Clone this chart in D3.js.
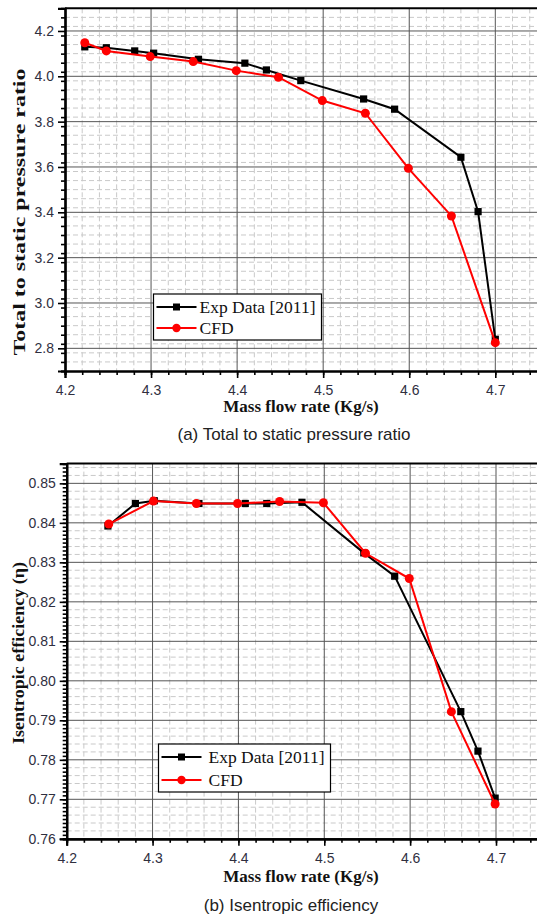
<!DOCTYPE html>
<html>
<head>
<meta charset="utf-8">
<script src="https://cdn.jsdelivr.net/npm/d3@7"></script>
<style>
  html, body { margin: 0; padding: 0; background: #fff; }
  svg { display: block; }
</style>
</head>
<body>
<svg id="fig" width="537" height="917"></svg>
<script>
// Mass flow rate sweep: measured data vs. CFD
const expFlowA = [4.223, 4.248, 4.281, 4.303, 4.355, 4.409, 4.434, 4.474, 4.547, 4.583, 4.660, 4.680, 4.700];
const expPR    = [4.130, 4.126, 4.112, 4.102, 4.075, 4.058, 4.028, 3.981, 3.900, 3.855, 3.643, 3.403, 2.840];
const cfdFlowA = [4.223, 4.248, 4.299, 4.349, 4.399, 4.448, 4.499, 4.549, 4.599, 4.649, 4.700];
const cfdPR    = [4.148, 4.112, 4.087, 4.065, 4.025, 3.996, 3.893, 3.837, 3.594, 3.384, 2.825];

const expFlowB = [4.248, 4.280, 4.302, 4.354, 4.408, 4.433, 4.474, 4.546, 4.582, 4.659, 4.679, 4.699];
const expEff   = [0.8392, 0.8449, 0.8456, 0.8449, 0.8449, 0.8449, 0.8452, 0.8324, 0.8265, 0.7922, 0.7822, 0.7703];
const cfdFlowB = [4.249, 4.301, 4.351, 4.399, 4.448, 4.499, 4.548, 4.599, 4.648, 4.699];
const cfdEff   = [0.8397, 0.8455, 0.8449, 0.8449, 0.8454, 0.8451, 0.8323, 0.8259, 0.7922, 0.7688];

const flowTicks = [4.2, 4.3, 4.4, 4.5, 4.6, 4.7];
const prTicks   = [2.8, 3.0, 3.2, 3.4, 3.6, 3.8, 4.0, 4.2];
const effTicks  = [0.76, 0.77, 0.78, 0.79, 0.80, 0.81, 0.82, 0.83, 0.84, 0.85];

const seriesNames = ["Exp Data [2011]", "CFD"];
const captions = ["(a) Total to static pressure ratio", "(b) Isentropic efficiency"];
const yTitles = ["Total to static pressure ratio", "Isentropic efficiency (\u03b7)"];
const xTitle = "Mass flow rate (Kg/s)";

const svg = d3.select("#fig");
const W = 537;

function steps(lo, hi, step) {
  const n = Math.round((hi - lo) / step);
  return d3.range(n + 1).map(i => +(lo + i * step).toFixed(6));
}

function panel(o) {
  const g = svg.append("g");
  const x = d3.scaleLinear().domain([4.2, 4.8]).range([o.x0, o.x0 + 0.6 * o.xPerUnit]);
  const y = d3.scaleLinear().domain(o.yDomain).range([o.yBottom, o.yTop]);
  const left = x(4.2), right = W + 5, top = y(o.yDomain[1]), bottom = y(o.yDomain[0]);

  const isMajor = (v, arr) => arr.some(t => Math.abs(t - v) < 1e-9);

  // minor dashed grid
  const gx = steps(4.2, 4.8, 0.02).filter(v => !isMajor(v, flowTicks) && x(v) < right);
  const gy = steps(o.yDomain[0], o.yDomain[1], o.gridStep).filter(v => !isMajor(v, o.yTicks) && y(v) > top + 0.5 && y(v) < bottom - 0.5);
  g.append("g").selectAll("line").data(gx).join("line")
    .attr("x1", d => x(d)).attr("x2", d => x(d)).attr("y1", top).attr("y2", bottom)
    .attr("stroke", "#c9c9c9").attr("stroke-width", 1).attr("stroke-dasharray", "5,3");
  g.append("g").selectAll("line").data(gy).join("line")
    .attr("x1", left).attr("x2", right).attr("y1", d => y(d)).attr("y2", d => y(d))
    .attr("stroke", "#c9c9c9").attr("stroke-width", 1).attr("stroke-dasharray", "5,3");

  // major solid grid
  g.append("g").selectAll("line").data(flowTicks.filter(v => v > 4.2)).join("line")
    .attr("x1", d => x(d)).attr("x2", d => x(d)).attr("y1", top).attr("y2", bottom)
    .attr("stroke", "#555").attr("stroke-width", 1);
  g.append("g").selectAll("line").data(o.yTicks).join("line")
    .attr("x1", left).attr("x2", right).attr("y1", d => y(d)).attr("y2", d => y(d))
    .attr("stroke", "#555").attr("stroke-width", 1);

  // frame: top border, left and bottom axes
  g.append("line").attr("x1", left).attr("x2", right).attr("y1", top).attr("y2", top)
    .attr("stroke", "#000").attr("stroke-width", 2);

  const xAxis = d3.axisBottom(x).tickValues(flowTicks).tickFormat(d3.format(".1f")).tickSize(7).tickPadding(7);
  const xMinor = d3.axisBottom(x).tickValues(steps(4.2, 4.8, 0.02)).tickFormat("").tickSize(4);
  const yAxis = d3.axisLeft(y).tickValues(o.yTicks).tickFormat(d3.format(o.fmt)).tickSize(7).tickPadding(4);
  const yMinor = d3.axisLeft(y).tickValues(steps(o.yDomain[0], o.yDomain[1], o.tickStep)).tickFormat("").tickSize(4);

  [[xMinor, "x"], [yMinor, "y"], [xAxis, "x"], [yAxis, "y"]].forEach(([ax, k]) => {
    const a = g.append("g")
      .attr("transform", k === "x" ? `translate(0,${bottom})` : `translate(${left},0)`)
      .call(ax);
    a.select(".domain").attr("stroke", "#000").attr("stroke-width", 2.2);
    a.selectAll(".tick line").attr("stroke", "#000").attr("stroke-width", 1.6);
    a.selectAll(".tick text").attr("fill", "#2f2f3f")
      .style("font-family", "'Liberation Sans', Arial, sans-serif").style("font-size", "14px");
  });

  // series
  const line = d3.line().x(d => x(d[0])).y(d => y(d[1]));
  const expPts = o.expX.map((v, i) => [v, o.expY[i]]);
  const cfdPts = o.cfdX.map((v, i) => [v, o.cfdY[i]]);

  g.append("path").datum(expPts).attr("d", line).attr("fill", "none")
    .attr("stroke", "#000").attr("stroke-width", 2);
  g.append("g").selectAll("rect").data(expPts).join("rect")
    .attr("x", d => x(d[0]) - 3.6).attr("y", d => y(d[1]) - 3.6)
    .attr("width", 7.2).attr("height", 7.2).attr("fill", "#000");

  g.append("path").datum(cfdPts).attr("d", line).attr("fill", "none")
    .attr("stroke", "#ff0000").attr("stroke-width", 2);
  g.append("g").selectAll("circle").data(cfdPts).join("circle")
    .attr("cx", d => x(d[0])).attr("cy", d => y(d[1])).attr("r", 4.5).attr("fill", "#ff0000");

  // legend
  const lg = g.append("g").attr("transform", `translate(${o.leg[0]},${o.leg[1]})`);
  lg.append("rect").attr("width", o.leg[2]).attr("height", o.leg[3])
    .attr("fill", "#fff").attr("stroke", "#000").attr("stroke-width", 1.2);
  const rows = [{c: "#000", m: "sq"}, {c: "#ff0000", m: "ci"}];
  rows.forEach((r, i) => {
    const cy = o.legRow[i];
    lg.append("line").attr("x1", 3).attr("x2", 43).attr("y1", cy).attr("y2", cy)
      .attr("stroke", r.c).attr("stroke-width", 2);
    if (r.m === "sq") lg.append("rect").attr("x", 19.5).attr("y", cy - 3.5).attr("width", 7).attr("height", 7).attr("fill", r.c);
    else lg.append("circle").attr("cx", 23).attr("cy", cy).attr("r", 4.2).attr("fill", r.c);
    lg.append("text").attr("x", o.legTextX).attr("y", cy).attr("dy", "0.35em")
      .attr("fill", "#111")
      .style("font-family", "'Liberation Serif', 'Times New Roman', serif").style("font-size", "17.5px")
      .text(seriesNames[i]);
  });

  // titles
  g.append("text").attr("x", 301).attr("y", o.xTitleY).attr("text-anchor", "middle")
    .style("font-family", "'Liberation Serif', 'Times New Roman', serif").style("font-weight", "bold")
    .style("font-size", "17px").attr("fill", "#111").text(xTitle);
  g.append("text").attr("transform", `translate(${o.yTitleX},${o.yTitleY}) rotate(-90)`)
    .attr("text-anchor", "middle")
    .attr("textLength", o.yTitleLen).attr("lengthAdjust", "spacingAndGlyphs")
    .style("font-family", "'Liberation Serif', 'Times New Roman', serif").style("font-weight", "bold")
    .style("font-size", o.yTitleSize + "px").attr("fill", "#111").text(o.yTitle);
  g.append("text").attr("x", o.capX).attr("y", o.capY).attr("text-anchor", "middle")
    .style("font-family", "'Liberation Sans', Arial, sans-serif").style("font-size", "17px")
    .attr("fill", "#222").text(o.caption);
}

panel({
  x0: 65, xPerUnit: 860.6,
  yDomain: [2.7, 4.3], yBottom: 371, yTop: 8.3,
  yTicks: prTicks, fmt: ".1f", gridStep: 0.04, tickStep: 0.04,
  expX: expFlowA, expY: expPR, cfdX: cfdFlowA, cfdY: cfdPR,
  leg: [153.5, 294, 168, 46], legRow: [13, 34], legTextX: 46,
  xTitleY: 412, yTitleX: 24.5, yTitleY: 212, yTitleLen: 287, yTitleSize: 16.5, yTitle: yTitles[0],
  capX: 294, capY: 440, caption: captions[0]
});

panel({
  x0: 66.7, xPerUnit: 858.6,
  yDomain: [0.76, 0.855], yBottom: 838.8, yTop: 463.6,
  yTicks: effTicks, fmt: ".2f", gridStep: 0.002, tickStep: 0.001,
  expX: expFlowB, expY: expEff, cfdX: cfdFlowB, cfdY: cfdEff,
  leg: [158.5, 744, 172, 48], legRow: [13, 36], legTextX: 50,
  xTitleY: 882, yTitleX: 24, yTitleY: 653, yTitleLen: 182, yTitleSize: 16, yTitle: yTitles[1],
  capX: 291, capY: 911, caption: captions[1]
});
</script>
</body>
</html>
